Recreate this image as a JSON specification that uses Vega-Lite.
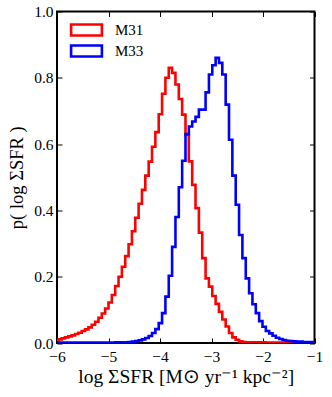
{
  "$schema": "https://vega.github.io/schema/vega-lite/v6.json",
  "width": 257.5,
  "height": 331.5,
  "autosize": {"type": "none"},
  "padding": {"left": 57, "top": 11.5, "right": 17.5, "bottom": 54},
  "background": "white",
  "config": {
    "view": {"stroke": "black", "strokeWidth": 2},
    "axis": {
      "grid": false,
      "domain": false,
      "tickColor": "black",
      "tickSize": -5,
      "tickWidth": 1,
      "labelFlush": false,
      "labelFont": "Liberation Serif",
      "labelFontSize": 15.5,
      "labelColor": "black",
      "titleFont": "Liberation Serif",
      "titleFontSize": 19,
      "titleFontWeight": "normal",
      "titleColor": "black"
    },
    "legend": {
      "labelFont": "Liberation Serif",
      "labelFontSize": 15,
      "labelColor": "black"
    }
  },
  "data": {
    "values": [
      {"x": -6.0075, "M31": 0.008, "M33": 0.001},
      {"x": -5.9425, "M31": 0.011, "M33": 0.001},
      {"x": -5.8775, "M31": 0.014, "M33": 0.001},
      {"x": -5.8125, "M31": 0.017, "M33": 0.001},
      {"x": -5.7475, "M31": 0.020, "M33": 0.001},
      {"x": -5.6825, "M31": 0.023, "M33": 0.001},
      {"x": -5.6175, "M31": 0.027, "M33": 0.001},
      {"x": -5.5525, "M31": 0.031, "M33": 0.001},
      {"x": -5.4875, "M31": 0.036, "M33": 0.001},
      {"x": -5.4225, "M31": 0.041, "M33": 0.001},
      {"x": -5.3575, "M31": 0.047, "M33": 0.001},
      {"x": -5.2925, "M31": 0.055, "M33": 0.001},
      {"x": -5.2275, "M31": 0.064, "M33": 0.001},
      {"x": -5.1625, "M31": 0.076, "M33": 0.001},
      {"x": -5.0975, "M31": 0.089, "M33": 0.001},
      {"x": -5.0325, "M31": 0.104, "M33": 0.001},
      {"x": -4.9675, "M31": 0.122, "M33": 0.001},
      {"x": -4.9025, "M31": 0.145, "M33": 0.001},
      {"x": -4.8375, "M31": 0.172, "M33": 0.002},
      {"x": -4.7725, "M31": 0.200, "M33": 0.002},
      {"x": -4.7075, "M31": 0.230, "M33": 0.002},
      {"x": -4.6425, "M31": 0.262, "M33": 0.002},
      {"x": -4.5775, "M31": 0.298, "M33": 0.003},
      {"x": -4.5125, "M31": 0.337, "M33": 0.004},
      {"x": -4.4475, "M31": 0.378, "M33": 0.006},
      {"x": -4.3825, "M31": 0.420, "M33": 0.008},
      {"x": -4.3175, "M31": 0.462, "M33": 0.011},
      {"x": -4.2525, "M31": 0.505, "M33": 0.015},
      {"x": -4.1875, "M31": 0.547, "M33": 0.021},
      {"x": -4.1225, "M31": 0.592, "M33": 0.030},
      {"x": -4.0575, "M31": 0.636, "M33": 0.042},
      {"x": -3.9925, "M31": 0.690, "M33": 0.060},
      {"x": -3.9275, "M31": 0.752, "M33": 0.090},
      {"x": -3.8625, "M31": 0.800, "M33": 0.140},
      {"x": -3.7975, "M31": 0.830, "M33": 0.203},
      {"x": -3.7325, "M31": 0.815, "M33": 0.290},
      {"x": -3.6675, "M31": 0.780, "M33": 0.380},
      {"x": -3.6025, "M31": 0.736, "M33": 0.470},
      {"x": -3.5375, "M31": 0.689, "M33": 0.550},
      {"x": -3.4725, "M31": 0.628, "M33": 0.630},
      {"x": -3.4075, "M31": 0.548, "M33": 0.653},
      {"x": -3.3425, "M31": 0.477, "M33": 0.668},
      {"x": -3.2775, "M31": 0.407, "M33": 0.682},
      {"x": -3.2125, "M31": 0.333, "M33": 0.704},
      {"x": -3.1475, "M31": 0.256, "M33": 0.704},
      {"x": -3.0825, "M31": 0.195, "M33": 0.756},
      {"x": -3.0175, "M31": 0.170, "M33": 0.810},
      {"x": -2.9525, "M31": 0.142, "M33": 0.838},
      {"x": -2.8875, "M31": 0.118, "M33": 0.860},
      {"x": -2.8225, "M31": 0.094, "M33": 0.845},
      {"x": -2.7575, "M31": 0.071, "M33": 0.810},
      {"x": -2.6925, "M31": 0.050, "M33": 0.719},
      {"x": -2.6275, "M31": 0.030, "M33": 0.613},
      {"x": -2.5625, "M31": 0.017, "M33": 0.505},
      {"x": -2.4975, "M31": 0.010, "M33": 0.417},
      {"x": -2.4325, "M31": 0.005, "M33": 0.326},
      {"x": -2.3675, "M31": 0.003, "M33": 0.256},
      {"x": -2.3025, "M31": 0.002, "M33": 0.195},
      {"x": -2.2375, "M31": 0.002, "M33": 0.150},
      {"x": -2.1725, "M31": 0.002, "M33": 0.117},
      {"x": -2.1075, "M31": 0.002, "M33": 0.090},
      {"x": -2.0425, "M31": 0.002, "M33": 0.066},
      {"x": -1.9775, "M31": 0.002, "M33": 0.049},
      {"x": -1.9125, "M31": 0.001, "M33": 0.036},
      {"x": -1.8475, "M31": 0.001, "M33": 0.029},
      {"x": -1.7825, "M31": 0.001, "M33": 0.022},
      {"x": -1.7175, "M31": 0.001, "M33": 0.016},
      {"x": -1.6525, "M31": 0.001, "M33": 0.012},
      {"x": -1.5875, "M31": 0.001, "M33": 0.009},
      {"x": -1.5225, "M31": 0.001, "M33": 0.007},
      {"x": -1.4575, "M31": 0.001, "M33": 0.006},
      {"x": -1.3925, "M31": 0.0, "M33": 0.005},
      {"x": -1.3275, "M31": 0.0, "M33": 0.004},
      {"x": -1.2625, "M31": 0.0, "M33": 0.004},
      {"x": -1.1975, "M31": 0.0, "M33": 0.003},
      {"x": -1.1325, "M31": 0.0, "M33": 0.003},
      {"x": -1.0675, "M31": 0.0, "M33": 0.003},
      {"x": -1.0025, "M31": 0.0, "M33": 0.002},
      {"x": -0.9375, "M31": 0.0, "M33": 0.002}
    ]
  },
  "transform": [{"fold": ["M31", "M33"], "as": ["galaxy", "p"]}],
  "layer": [
    {
      "mark": {"type": "line", "interpolate": "step", "strokeWidth": 2.6, "clip": true},
      "encoding": {
        "x": {
          "field": "x", "type": "quantitative",
          "scale": {"domain": [-6, -1], "nice": false, "zero": false},
          "axis": {"values": [-6, -5, -4, -3, -2, -1], "labelFlush": false, "labelFont": "Liberation Serif", "labelFontSize": 15.5, "labelPadding": 11, "title": "log ΣSFR  [M⊙ yr⁻¹ kpc⁻²]", "titleFont": "Liberation Serif", "titleFontSize": 19.5, "titlePadding": 3}
        },
        "y": {
          "field": "p", "type": "quantitative",
          "scale": {"domain": [0, 1], "nice": false},
          "axis": {"values": [0, 0.2, 0.4, 0.6, 0.8, 1.0], "format": ".1f", "labelFlush": false, "labelFont": "Liberation Serif", "labelFontSize": 15.5, "labelPadding": 9, "title": "p( log ΣSFR )", "titleFont": "Liberation Serif", "titleFontSize": 18.5, "titlePadding": 7}
        },
        "color": {
          "field": "galaxy", "type": "nominal",
          "scale": {"domain": ["M31", "M33"], "range": ["#ff0000", "#0000ff"]},
          "legend": {
            "title": null,
            "orient": "none",
            "legendX": 22,
            "legendY": 11,
            "padding": 0,
            "symbolType": "M-2.8,-1H2.8V1H-2.8Z",
            "symbolSize": 121,
            "symbolStrokeWidth": 2.6,
            "symbolFillColor": "transparent",
            "labelFont": "Liberation Serif",
            "labelFontSize": 15,
            "labelOffset": 21,
            "rowPadding": -2,
            "encode": {"symbols": {"update": {"fill": {"value": "transparent"}}}}
          }
        }
      }
    },
    {
      "mark": {"type": "point", "opacity": 0},
      "encoding": {
        "x": {
          "field": "x", "type": "quantitative",
          "axis": {"orient": "top", "values": [-6, -5, -4, -3, -2, -1], "labels": false, "title": null}
        },
        "y": {
          "field": "p", "type": "quantitative",
          "axis": {"orient": "right", "values": [0, 0.2, 0.4, 0.6, 0.8, 1.0], "labels": false, "title": null}
        }
      }
    }
  ],
  "resolve": {"axis": {"x": "independent", "y": "independent"}}
}
